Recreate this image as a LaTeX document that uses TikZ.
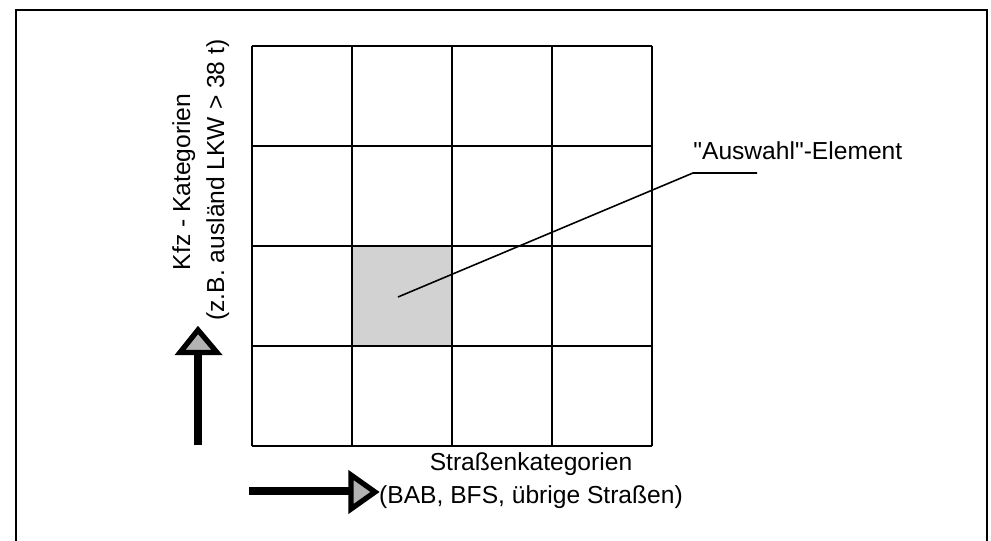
\documentclass[tikz,border=0pt]{standalone}
\usepackage{fontspec}
\setmainfont{Liberation Sans}[Ligatures=TeXOff]
\usetikzlibrary{calc}

\begin{document}
\begin{tikzpicture}[x=0.2mm,y=-0.2mm,
  gitter/.style={line width=1.6pt},
  schaft/.style={line width=4.2pt},
  pfeilkopf/.style={fill=gray!60,draw=black,line width=3pt,line join=miter},
  beschr/.style={font=\fontsize{14}{20}\selectfont,inner sep=0pt}]

\useasboundingbox (0,0) rectangle (991,541);

% ===== Rahmen =====
\draw[line width=1pt] (16,541) -- (16,10) -- (987,10) -- (987,541);

% ===== Matrix 4x4 =====
% Auswahl-Zelle (2. Spalte, 3. Zeile)
\fill[gray!35] (352,246) rectangle (452,346);

\foreach \i in {0,...,4} {
  \draw[gitter] (252+100*\i,46) -- (252+100*\i,446);
  \draw[gitter] (252,46+100*\i) -- (652,46+100*\i);
}

% ===== "Auswahl"-Element =====
\coordinate (W) at (398,297);
\coordinate (K) at (693,173);
\coordinate (E) at (757,173);
\draw[line width=0.9pt] (W) -- (K) -- (E);
\node[beschr, anchor=base west] (auswahl) at (693,160) {"Auswahl"-Element};

% ===== Pfeile =====
% senkrecht
\draw[schaft] (198,445) -- (198,352);
\draw[pfeilkopf] (180,352.5) -- (217,352.5) -- (198,330) -- cycle;

% waagerecht
\draw[schaft] (249,491) -- (352,491);
\draw[pfeilkopf] (351,475) -- (351,509) -- (375,492) -- cycle;

% ===== Achsbeschriftungen =====
\node[beschr, anchor=base] (strasse) at (531,471) {Straßenkategorien};
\node[beschr, anchor=base] (strasse2) at (531,504) {(BAB, BFS, übrige Straßen)};

\node[beschr, rotate=90, anchor=base] (kfz) at (190,182) {Kfz - Kategorien};
\node[beschr, rotate=90, anchor=base] (kfz2) at (224,180) {(z.B. ausländ LKW > 38 t)};

\end{tikzpicture}
\end{document}
